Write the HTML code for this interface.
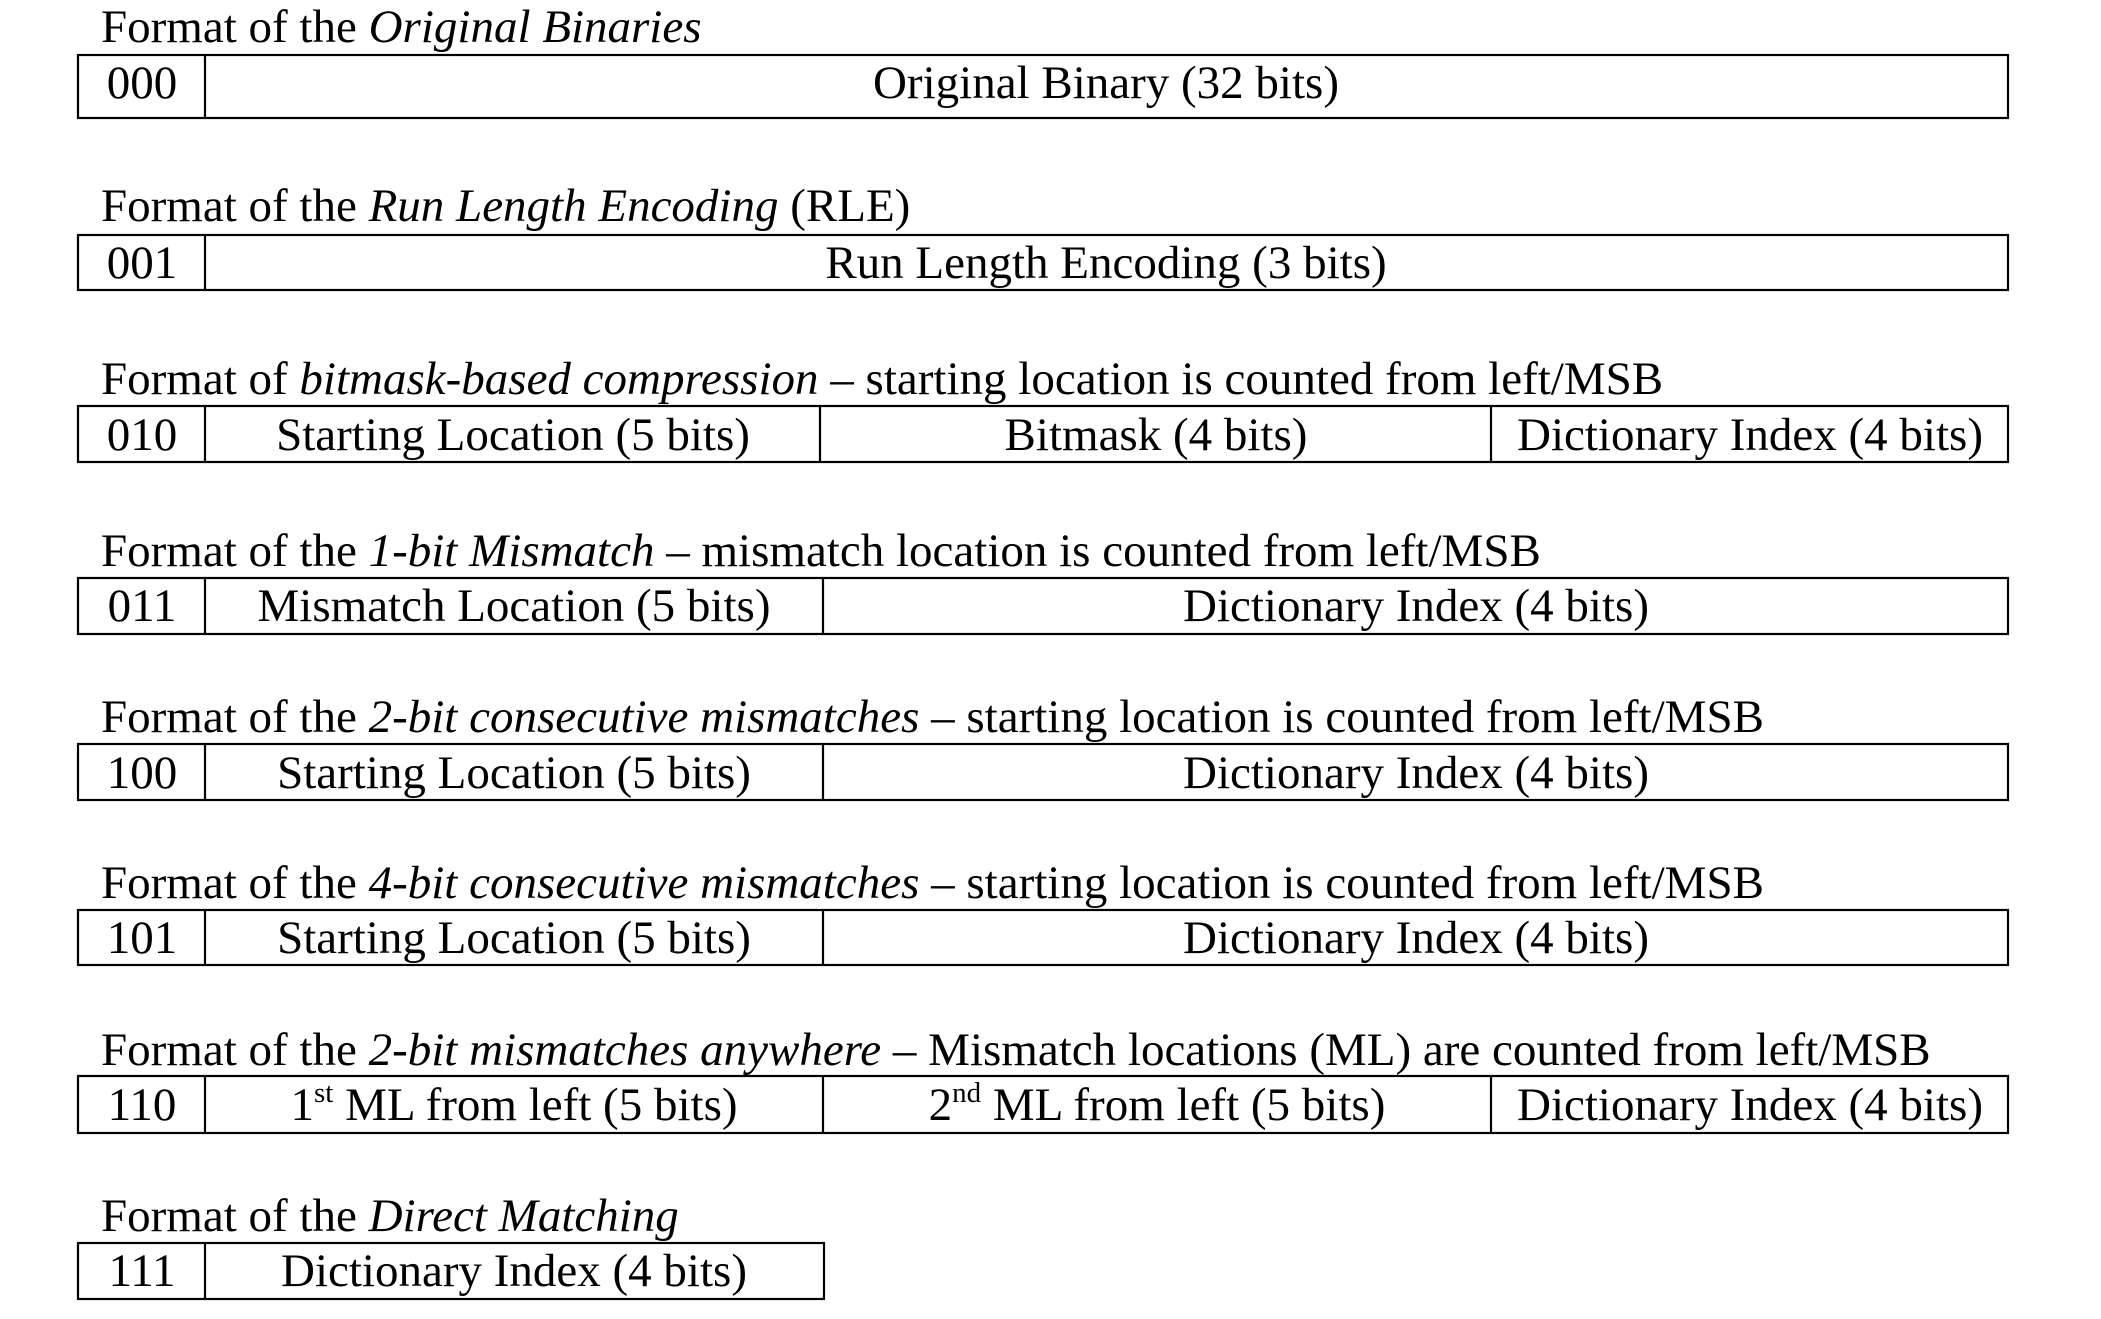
<!DOCTYPE html>
<html><head><meta charset="utf-8"><style>
html,body{margin:0;padding:0;background:#fff;}
svg{display:block;}
text{font-family:"Liberation Serif",serif;font-size:47px;fill:#000;}
</style></head><body>
<svg width="2101" height="1319" viewBox="0 0 2101 1319" xmlns="http://www.w3.org/2000/svg">
<g fill="none" stroke="#000" stroke-width="2.2">
<rect x="78" y="55" width="1930" height="63"/><line x1="205" y1="55" x2="205" y2="118"/>
<rect x="78" y="235" width="1930" height="55"/><line x1="205" y1="235" x2="205" y2="290"/>
<rect x="78" y="406" width="1930" height="56"/><line x1="205" y1="406" x2="205" y2="462"/><line x1="820" y1="406" x2="820" y2="462"/><line x1="1491" y1="406" x2="1491" y2="462"/>
<rect x="78" y="578" width="1930" height="56"/><line x1="205" y1="578" x2="205" y2="634"/><line x1="823" y1="578" x2="823" y2="634"/>
<rect x="78" y="744" width="1930" height="56"/><line x1="205" y1="744" x2="205" y2="800"/><line x1="823" y1="744" x2="823" y2="800"/>
<rect x="78" y="910" width="1930" height="55"/><line x1="205" y1="910" x2="205" y2="965"/><line x1="823" y1="910" x2="823" y2="965"/>
<rect x="78" y="1076" width="1930" height="57"/><line x1="205" y1="1076" x2="205" y2="1133"/><line x1="823" y1="1076" x2="823" y2="1133"/><line x1="1491" y1="1076" x2="1491" y2="1133"/>
<rect x="78" y="1243" width="746" height="56"/><line x1="205" y1="1243" x2="205" y2="1299"/>
</g>
<g>
<text x="101" y="42">Format of the <tspan font-style="italic">Original Binaries</tspan></text>
<text x="101" y="221">Format of the <tspan font-style="italic">Run Length Encoding</tspan> (RLE)</text>
<text x="101" y="394">Format of <tspan font-style="italic">bitmask-based compression</tspan> – starting location is counted from left/MSB</text>
<text x="101" y="566">Format of the <tspan font-style="italic">1-bit Mismatch</tspan> – mismatch location is counted from left/MSB</text>
<text x="101" y="732">Format of the <tspan font-style="italic">2-bit consecutive mismatches</tspan> – starting location is counted from left/MSB</text>
<text x="101" y="898">Format of the <tspan font-style="italic">4-bit consecutive mismatches</tspan> – starting location is counted from left/MSB</text>
<text x="101" y="1065">Format of the <tspan font-style="italic">2-bit mismatches anywhere</tspan> – Mismatch locations (ML) are counted from left/MSB</text>
<text x="101" y="1231">Format of the <tspan font-style="italic">Direct Matching</tspan></text>
</g>
<g text-anchor="middle">
<text x="142" y="98">000</text><text x="1106" y="98">Original Binary (32 bits)</text>
<text x="142" y="278">001</text><text x="1106" y="278">Run Length Encoding (3 bits)</text>
<text x="142" y="450">010</text><text x="513" y="450">Starting Location (5 bits)</text><text x="1156" y="450">Bitmask (4 bits)</text><text x="1750" y="450">Dictionary Index (4 bits)</text>
<text x="142" y="621">011</text><text x="514" y="621">Mismatch Location (5 bits)</text><text x="1416" y="621">Dictionary Index (4 bits)</text>
<text x="142" y="788">100</text><text x="514" y="788">Starting Location (5 bits)</text><text x="1416" y="788">Dictionary Index (4 bits)</text>
<text x="142" y="953">101</text><text x="514" y="953">Starting Location (5 bits)</text><text x="1416" y="953">Dictionary Index (4 bits)</text>
<text x="142" y="1120">110</text><text x="514" y="1120">1<tspan font-size="29" dy="-18">st</tspan><tspan dy="18"> ML from left (5 bits)</tspan></text><text x="1157" y="1120">2<tspan font-size="29" dy="-18">nd</tspan><tspan dy="18"> ML from left (5 bits)</tspan></text><text x="1750" y="1120">Dictionary Index (4 bits)</text>
<text x="142" y="1286">111</text><text x="514" y="1286">Dictionary Index (4 bits)</text>
</g>
</svg>
</body></html>
